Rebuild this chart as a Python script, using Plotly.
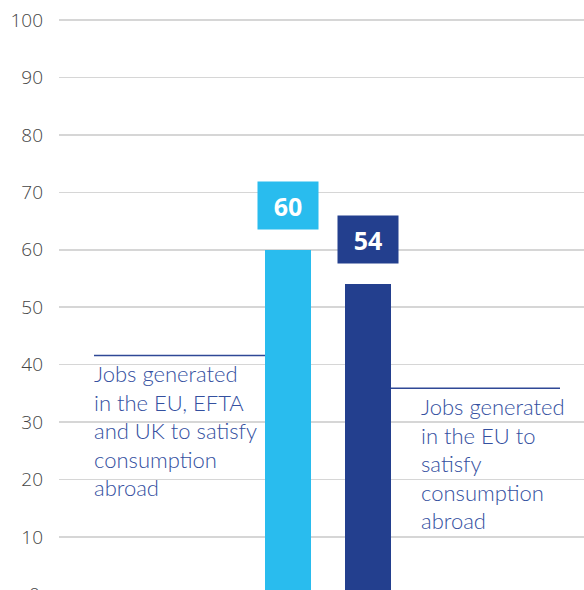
import plotly.graph_objects as go

categories = ["EU, EFTA and UK", "EU"]
values = [60, 54]
bar_colors = ["#29BCEE", "#233F8E"]
callout_texts = [
    "Jobs generated<br>in the EU, EFTA<br>and UK to satisfy<br>consumption<br>abroad",
    "Jobs generated<br>in the EU to<br>satisfy<br>consumption<br>abroad",
]
tick_vals = [10, 20, 30, 40, 50, 60, 70, 80, 90, 100]

Y_MIN, Y_MAX = 0.77, 100.52
X_MIN, X_MAX = -2.8625, 3.7
BAR_W = 0.575

fig = go.Figure()
fig.add_trace(go.Bar(
    x=categories, y=values, marker=dict(color=bar_colors, line=dict(width=0)),
    width=BAR_W, hoverinfo="skip", showlegend=False,
))

text_color = "#34509F"
line_color = "#2F4896"
tick_font = dict(family="Open Sans", size=19, color="#454545", weight=300)

# value label boxes
for cat, v, c in zip(categories, values, bar_colors):
    fig.add_annotation(x=cat, y=v, xref="x", yref="y", text=f"<b>{v}</b>",
                       showarrow=False, yanchor="bottom", yshift=20,
                       width=60, height=47, bgcolor=c, borderpad=0,
                       font=dict(family="Open Sans", size=25, color="white"))

# callouts
callouts = [
    dict(x0=-2.425, x1=-BAR_W / 2, y=41.6, tx=-2.425, yshift=-3),
    dict(x0=1 + BAR_W / 2, x1=3.4, y=35.9, tx=1.6625, yshift=-2.5),
]
for co, txt in zip(callouts, callout_texts):
    fig.add_shape(type="line", xref="x", yref="y", x0=co["x0"], x1=co["x1"],
                  y0=co["y"], y1=co["y"], line=dict(color=line_color, width=1.5))
    fig.add_annotation(x=co["tx"], y=co["y"], xref="x", yref="y", text=txt,
                       showarrow=False, xanchor="left", yanchor="top", align="left",
                       yshift=co["yshift"], xshift=-2,
                       font=dict(family="Lato", size=22, color=text_color, weight=300))

# "0" tick label (partly below the visible area)
zero_frac = (0 - Y_MIN) / (Y_MAX - Y_MIN)
fig.add_annotation(x=0, y=zero_frac, xref="paper", yref="paper", text="0",
                   showarrow=False, xanchor="right", yanchor="middle", xshift=-17,
                   font=tick_font)

fig.update_layout(
    width=584, height=590,
    margin=dict(l=59, r=0, t=17, b=0),
    paper_bgcolor="white", plot_bgcolor="white",
    xaxis=dict(type="category", range=[X_MIN, X_MAX], visible=False, fixedrange=True),
    yaxis=dict(range=[Y_MIN, Y_MAX], tickvals=tick_vals, showgrid=True,
               gridcolor="#D6D6D6", gridwidth=1.5, zeroline=False, showline=False,
               ticks="", ticklabelstandoff=15, tickfont=tick_font, fixedrange=True),
    bargap=0,
)

fig.write_html("out.html", config={"displayModeBar": False, "staticPlot": True},
               post_script="document.body.style.margin='0';document.body.style.overflow='hidden';")
